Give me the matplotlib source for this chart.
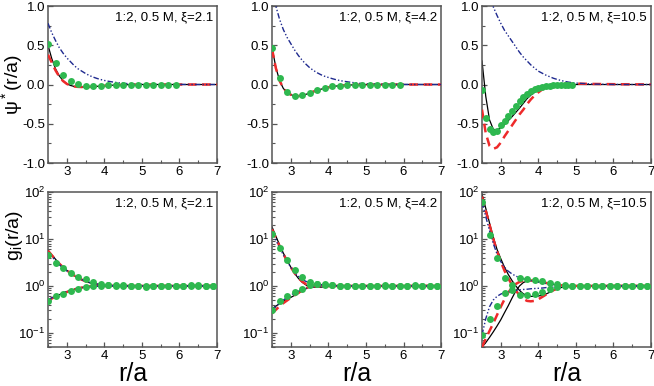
import matplotlib
matplotlib.use("Agg")
import matplotlib.pyplot as plt
from matplotlib.ticker import MultipleLocator, LogLocator, NullFormatter

plt.rcParams["font.family"] = ["Liberation Sans", "DejaVu Sans"]
plt.rcParams["mathtext.fontset"] = "custom"
plt.rcParams["mathtext.rm"] = "Liberation Sans"
plt.rcParams["mathtext.it"] = "Liberation Sans:italic"

# ---------- data ----------

# common grid of the model curves
r_curve = [2.5, 2.6, 2.7, 2.8, 2.9, 3.0, 3.1, 3.2, 3.3, 3.4, 3.5, 3.6, 3.7, 3.8, 3.9,
           4.0, 4.1, 4.2, 4.3, 4.4, 4.5, 4.6, 4.7, 4.8, 4.9, 5.0, 5.5, 6.0, 6.5, 7.0]

# simulation points
r_sim_psi = [2.5, 2.7, 2.9, 3.1, 3.3, 3.5, 3.7, 3.9, 4.1, 4.3, 4.5, 4.7, 4.9,
             5.1, 5.3, 5.5, 5.7, 5.9]
r_sim_psi_fine = [2.5, 2.6, 2.7, 2.8, 2.9, 3.0, 3.1, 3.2, 3.3, 3.4, 3.5, 3.6, 3.7,
                  3.8, 3.9, 4.0, 4.1, 4.2, 4.3, 4.4, 4.5, 4.6, 4.7, 4.8, 4.9]
r_sim_g = [2.5, 2.7, 2.9, 3.1, 3.3, 3.5, 3.7, 3.9, 4.1, 4.3, 4.5, 4.7, 4.9,
           5.1, 5.3, 5.5, 5.7, 5.9, 6.1, 6.3, 6.5, 6.7, 6.9]

labels = ["1:2, 0.5 M, ξ=2.1", "1:2, 0.5 M, ξ=4.2", "1:2, 0.5 M, ξ=10.5"]

# ---- psi*(r/a), xi = 2.1
psi1_black = [0.50, 0.33, 0.20, 0.11, 0.05, 0.01, -0.012, -0.025, -0.03, -0.032, -0.032,
              -0.03, -0.027, -0.023, -0.019, -0.015, -0.012, -0.009, -0.007, -0.005,
              -0.004, -0.003, -0.002, -0.001, -0.001, 0, 0, 0, 0, 0]
psi1_red = [0.38, 0.28, 0.18, 0.10, 0.045, 0.008, -0.012, -0.025, -0.03, -0.032, -0.032,
            -0.03, -0.027, -0.023, -0.019, -0.015, -0.012, -0.009, -0.007, -0.005,
            -0.004, -0.003, -0.002, -0.001, -0.001, 0, 0, 0, 0, 0]
psi1_blue = [0.78, 0.66, 0.56, 0.47, 0.40, 0.34, 0.29, 0.24, 0.20, 0.17, 0.14, 0.115,
             0.095, 0.078, 0.064, 0.052, 0.042, 0.034, 0.027, 0.021, 0.016, 0.012,
             0.009, 0.007, 0.005, 0.004, 0.002, 0.001, 0, 0]
psi1_sim = [0.52, 0.27, 0.12, 0.045, 0.005, -0.015, -0.02, -0.015, -0.01, -0.005,
            -0.003, 0, 0, 0, 0, 0, 0, 0]

# ---- psi*(r/a), xi = 4.2
psi2_black = [0.47, 0.22, 0.05, -0.05, -0.10, -0.13, -0.145, -0.148, -0.14, -0.125,
              -0.11, -0.09, -0.075, -0.06, -0.047, -0.036, -0.027, -0.02, -0.015,
              -0.011, -0.008, -0.006, -0.004, -0.003, -0.002, -0.001, 0, 0, 0, 0]
psi2_red = [0.45, 0.21, 0.05, -0.05, -0.10, -0.13, -0.145, -0.148, -0.14, -0.125,
            -0.11, -0.09, -0.075, -0.06, -0.047, -0.036, -0.027, -0.02, -0.015,
            -0.011, -0.008, -0.006, -0.004, -0.003, -0.002, -0.001, 0, 0, 0, 0]
psi2_blue = [1.25, 1.0, 0.83, 0.70, 0.60, 0.52, 0.44, 0.37, 0.31, 0.26, 0.215, 0.18,
             0.15, 0.125, 0.105, 0.09, 0.075, 0.062, 0.051, 0.042, 0.035, 0.028,
             0.022, 0.017, 0.013, 0.01, 0.003, 0.001, 0, 0]
psi2_sim = [0.47, 0.08, -0.09, -0.14, -0.135, -0.11, -0.075, -0.045, -0.025, -0.015,
            -0.008, -0.003, 0, 0, 0, 0, 0, 0]

# ---- psi*(r/a), xi = 10.5
psi3_black = [0.30, -0.15, -0.45, -0.57, -0.58, -0.55, -0.51, -0.46, -0.41, -0.355,
              -0.30, -0.24, -0.18, -0.135, -0.10, -0.07, -0.05, -0.033, -0.02,
              -0.012, -0.007, -0.004, -0.002, -0.001, 0, 0, 0, 0, 0, 0]
psi3_red = [-0.32, -0.62, -0.78, -0.82, -0.80, -0.74, -0.66, -0.59, -0.52, -0.45,
            -0.38, -0.32, -0.25, -0.19, -0.14, -0.10, -0.065, -0.04, -0.02, -0.006,
            0.003, 0.008, 0.01, 0.011, 0.011, 0.011, 0.007, 0.004, 0.002, 0.001]
psi3_blue = [1.8, 1.45, 1.18, 0.99, 0.88, 0.78, 0.69, 0.62, 0.55, 0.48, 0.41, 0.35,
             0.30, 0.25, 0.21, 0.17, 0.145, 0.12, 0.10, 0.08, 0.065, 0.052, 0.04,
             0.031, 0.024, 0.018, 0.005, 0.001, 0, 0]
psi3_sim = [-0.07, -0.43, -0.57, -0.61, -0.59, -0.52, -0.46, -0.40, -0.34, -0.27,
            -0.21, -0.16, -0.115, -0.085, -0.06, -0.042, -0.03, -0.02, -0.013, -0.008,
            -0.005, -0.003, -0.002, -0.001, 0]

# ---- g_i(r/a), xi = 2.1 (co-ion branch "hi", counter-ion branch "lo")
g1_black_hi = [5.8, 4.6, 3.7, 3.0, 2.5, 2.15, 1.87, 1.65, 1.48, 1.35, 1.25, 1.17, 1.11,
               1.07, 1.04, 1.02, 1.01, 1.01, 1.0, 1.0, 1.0, 1.0, 1.0, 1.0, 1.0, 1.0,
               1.0, 1.0, 1.0, 1.0]
g1_black_lo = [0.5, 0.55, 0.6, 0.65, 0.7, 0.75, 0.8, 0.85, 0.89, 0.93, 0.96, 0.98, 0.99,
               1.0, 1.0, 1.0, 1.0, 1.0, 1.0, 1.0, 1.0, 1.0, 1.0, 1.0, 1.0, 1.0, 1.0,
               1.0, 1.0, 1.0]
g1_red_hi = [5.6, 4.5, 3.65, 2.98, 2.5, 2.15, 1.88, 1.66, 1.49, 1.36, 1.26, 1.18, 1.12,
             1.08, 1.05, 1.03, 1.02, 1.01, 1.0, 1.0, 1.0, 1.0, 1.0, 1.0, 1.0, 1.0,
             1.0, 1.0, 1.0, 1.0]
g1_red_lo = [0.49, 0.54, 0.59, 0.64, 0.69, 0.74, 0.79, 0.84, 0.88, 0.92, 0.95, 0.97,
             0.99, 1.0, 1.0, 1.0, 1.0, 1.0, 1.0, 1.0, 1.0, 1.0, 1.0, 1.0, 1.0, 1.0,
             1.0, 1.0, 1.0, 1.0]
g1_blue_hi = [5.2, 4.2, 3.45, 2.85, 2.4, 2.08, 1.83, 1.63, 1.48, 1.36, 1.27, 1.2, 1.14,
              1.1, 1.07, 1.05, 1.03, 1.02, 1.01, 1.01, 1.0, 1.0, 1.0, 1.0, 1.0, 1.0,
              1.0, 1.0, 1.0, 1.0]
g1_blue_lo = [0.5, 0.56, 0.61, 0.66, 0.71, 0.76, 0.8, 0.84, 0.88, 0.91, 0.94, 0.96,
              0.97, 0.98, 0.99, 0.99, 1.0, 1.0, 1.0, 1.0, 1.0, 1.0, 1.0, 1.0, 1.0, 1.0,
              1.0, 1.0, 1.0, 1.0]
g1_sim_hi = [4.5, 3.1, 2.4, 1.9, 1.55, 1.38, 1.22, 1.1, 1.06, 1.05, 1.04, 1.02, 1.0,
             0.97, 1.0, 1.0, 1.0, 1.0, 1.02, 1.05, 1.0, 1.0, 1.0]
g1_sim_lo = [0.48, 0.6, 0.68, 0.77, 0.86, 0.93, 1.0, 1.02, 1.03, 1.02, 1.0, 1.0, 0.98,
             1.0, 1.0, 1.01, 1.0, 1.0, 1.0, 1.0, 1.03, 1.0, 1.0]

# ---- g_i(r/a), xi = 4.2
g2_black_hi = [18, 11.5, 7.5, 5.0, 3.5, 2.5, 1.85, 1.45, 1.2, 1.05, 0.97, 0.94, 0.93,
               0.94, 0.96, 0.98, 0.99, 1.0, 1.0, 1.0, 1.0, 1.0, 1.0, 1.0, 1.0, 1.0,
               1.0, 1.0, 1.0, 1.0]
g2_black_lo = [0.33, 0.37, 0.42, 0.47, 0.52, 0.57, 0.63, 0.7, 0.78, 0.87, 0.95, 1.01,
               1.04, 1.04, 1.03, 1.02, 1.01, 1.0, 1.0, 1.0, 1.0, 1.0, 1.0, 1.0, 1.0,
               1.0, 1.0, 1.0, 1.0, 1.0]
g2_red_hi = [16, 10.5, 7.0, 4.8, 3.4, 2.5, 1.88, 1.48, 1.24, 1.1, 1.02, 0.98, 0.97,
             0.97, 0.98, 0.99, 1.0, 1.0, 1.0, 1.0, 1.0, 1.0, 1.0, 1.0, 1.0, 1.0, 1.0,
             1.0, 1.0, 1.0]
g2_red_lo = [0.26, 0.31, 0.37, 0.43, 0.49, 0.56, 0.63, 0.71, 0.8, 0.89, 0.97, 1.02,
             1.04, 1.04, 1.03, 1.02, 1.01, 1.0, 1.0, 1.0, 1.0, 1.0, 1.0, 1.0, 1.0,
             1.0, 1.0, 1.0, 1.0, 1.0]
g2_blue_hi = [14, 9.5, 6.5, 4.6, 3.3, 2.5, 1.95, 1.6, 1.38, 1.25, 1.17, 1.12, 1.08,
              1.06, 1.04, 1.03, 1.02, 1.01, 1.01, 1.0, 1.0, 1.0, 1.0, 1.0, 1.0, 1.0,
              1.0, 1.0, 1.0, 1.0]
g2_blue_lo = [0.3, 0.36, 0.43, 0.5, 0.57, 0.64, 0.71, 0.77, 0.83, 0.88, 0.92, 0.95,
              0.97, 0.98, 0.99, 1.0, 1.0, 1.0, 1.0, 1.0, 1.0, 1.0, 1.0, 1.0, 1.0, 1.0,
              1.0, 1.0, 1.0, 1.0]
g2_sim_hi = [12.5, 6.3, 3.5, 2.2, 1.55, 1.2, 1.12, 1.08, 1.05, 1.02, 1.0, 0.98, 1.0,
             1.0, 1.02, 1.03, 0.99, 1.0, 1.01, 1.05, 1.0, 0.98, 1.0]
g2_sim_lo = [0.31, 0.48, 0.6, 0.74, 0.88, 1.05, 1.08, 1.06, 1.03, 1.0, 0.99, 1.0, 1.0,
             1.01, 1.0, 1.0, 1.0, 1.01, 1.0, 1.0, 1.02, 1.0, 1.0]

# ---- g_i(r/a), xi = 10.5
g3_black_hi = [90, 45, 22, 11, 6.0, 3.8, 2.5, 1.75, 1.3, 1.0, 0.8, 0.68, 0.62, 0.6,
               0.6, 0.61, 0.63, 0.67, 0.73, 0.8, 0.87, 0.92, 0.96, 0.98, 0.99, 1.0,
               1.0, 1.0, 1.0, 1.0]
g3_black_lo = [0.05, 0.062, 0.08, 0.105, 0.14, 0.19, 0.27, 0.38, 0.55, 0.78, 1.0, 1.18,
               1.27, 1.3, 1.28, 1.24, 1.19, 1.14, 1.1, 1.07, 1.045, 1.03, 1.018, 1.01,
               1.005, 1.0, 1.0, 1.0, 1.0, 1.0]
g3_red_hi = [80, 40, 20, 10, 5.5, 3.3, 2.1, 1.45, 1.05, 0.8, 0.63, 0.53, 0.48, 0.47,
             0.48, 0.52, 0.58, 0.65, 0.73, 0.81, 0.88, 0.93, 0.96, 0.98, 0.99, 1.0,
             1.0, 1.0, 1.0, 1.0]
g3_red_lo = [0.05, 0.075, 0.11, 0.16, 0.24, 0.36, 0.52, 0.72, 0.93, 1.1, 1.22, 1.29,
             1.32, 1.31, 1.28, 1.24, 1.2, 1.16, 1.12, 1.08, 1.05, 1.03, 1.015, 1.005,
             1.0, 1.0, 1.0, 1.0, 1.0, 1.0]
g3_blue_hi = [60, 30, 15, 8.0, 4.8, 3.3, 2.5, 2.05, 1.8, 1.62, 1.5, 1.42, 1.35, 1.3,
              1.25, 1.2, 1.16, 1.13, 1.1, 1.08, 1.06, 1.045, 1.035, 1.025, 1.02, 1.015,
              1.005, 1.0, 1.0, 1.0]
g3_blue_lo = [0.09, 0.2, 0.36, 0.5, 0.6, 0.67, 0.72, 0.75, 0.78, 0.8, 0.82, 0.84, 0.85,
              0.87, 0.88, 0.89, 0.9, 0.92, 0.93, 0.94, 0.95, 0.96, 0.97, 0.98, 0.985,
              0.99, 1.0, 1.0, 1.0, 1.0]
g3_sim_hi = [60, 12, 4.0, 1.5, 1.05, 1.5, 1.42, 1.35, 1.25, 1.15, 1.08, 1.03, 1.0, 1.0,
             1.0, 1.0, 1.0, 1.0, 1.0, 1.0, 1.0, 1.0, 1.0]
g3_sim_lo = [0.09, 0.2, 0.38, 0.72, 0.82, 0.65, 0.64, 0.68, 0.76, 0.85, 0.93, 0.98,
             1.0, 1.0, 1.0, 1.0, 1.0, 1.0, 1.0, 1.0, 1.0, 1.0, 1.0]

psi_panels = [
    (psi1_black, psi1_red, psi1_blue, r_sim_psi, psi1_sim),
    (psi2_black, psi2_red, psi2_blue, r_sim_psi, psi2_sim),
    (psi3_black, psi3_red, psi3_blue, r_sim_psi_fine, psi3_sim),
]
g_panels = [
    ((g1_black_hi, g1_black_lo), (g1_red_hi, g1_red_lo), (g1_blue_hi, g1_blue_lo),
     (g1_sim_hi, g1_sim_lo)),
    ((g2_black_hi, g2_black_lo), (g2_red_hi, g2_red_lo), (g2_blue_hi, g2_blue_lo),
     (g2_sim_hi, g2_sim_lo)),
    ((g3_black_hi, g3_black_lo), (g3_red_hi, g3_red_lo), (g3_blue_hi, g3_blue_lo),
     (g3_sim_hi, g3_sim_lo)),
]

# ---------- styles ----------

BLACK = dict(color="black", lw=0.9, zorder=2)
RED = dict(color="#ee2a2a", lw=1.8, dashes=(3.5, 2.2), zorder=3)
BLUE = dict(color="#1f2a8f", lw=1.0, dashes=(4, 1.5, 1, 1.5, 1, 1.5), zorder=4)
GREEN = dict(color="#2eb84f", ls="none", marker="o", ms=5, mec="none", zorder=5)
SPINE = "#555555"


def style_axes(ax, label):
    for side in ax.spines.values():
        side.set_color(SPINE)
        side.set_linewidth(1.1)
    ax.tick_params(which="both", direction="in", top=False, right=False,
                   colors=SPINE, labelcolor="black", labelsize=9.5, pad=2)
    ax.tick_params(which="major", length=3.5, width=0.9)
    ax.tick_params(which="minor", length=2, width=0.8)
    ax.set_xlim(2.5, 7)
    ax.xaxis.set_major_locator(MultipleLocator(1))
    ax.xaxis.set_minor_locator(MultipleLocator(0.5))
    ax.text(0.975, 0.965, label, transform=ax.transAxes, ha="right", va="top",
            fontsize=9.5)


# ---------- figure ----------

fig = plt.figure(figsize=(6.54, 3.86), dpi=100)
lefts = [0.0734, 0.416, 0.737]
width = 0.2584

for k in range(3):
    # top row: reduced potential
    ax = fig.add_axes([lefts[k], 0.5777, width, 0.4067])
    black, red, blue, r_sim, sim = psi_panels[k]
    ax.plot(r_curve, black, **BLACK)
    ax.plot(r_curve, red, **RED)
    ax.plot(r_curve, blue, **BLUE)
    ax.plot(r_sim, sim, **GREEN)
    ax.set_ylim(-1, 1)
    ax.yaxis.set_major_locator(MultipleLocator(0.5))
    ax.yaxis.set_minor_locator(MultipleLocator(0.25))
    ax.yaxis.set_major_formatter(lambda v, p: f"{v:.1f}")
    style_axes(ax, labels[k])
    if k == 0:
        ax.set_ylabel("ψ$^*$(r/a)", fontsize=14)
        ax.yaxis.set_label_coords(-0.135, 0.5)

    # bottom row: radial distribution functions
    ax = fig.add_axes([lefts[k], 0.101, width, 0.4016])
    blacks, reds, blues, sims = g_panels[k]
    for curve in blacks:
        ax.plot(r_curve, curve, **BLACK)
    for curve in reds:
        ax.plot(r_curve, curve, **RED)
    for curve in blues:
        ax.plot(r_curve, curve, **BLUE)
    for pts in sims:
        ax.plot(r_sim_g, pts, **GREEN)
    ax.set_yscale("log")
    ax.set_ylim(0.05, 100)
    ax.yaxis.set_major_locator(LogLocator(base=10, numticks=10))
    ax.yaxis.set_minor_locator(LogLocator(base=10, subs=range(2, 10), numticks=10))
    ax.yaxis.set_minor_formatter(NullFormatter())
    style_axes(ax, labels[k])
    ax.set_xlabel("r/a", fontsize=18, labelpad=0)
    if k == 0:
        ax.set_ylabel("g$_\\mathrm{i}$(r/a)", fontsize=14)
        ax.yaxis.set_label_coords(-0.135, 0.72)

fig.savefig("out.png", dpi=100)
